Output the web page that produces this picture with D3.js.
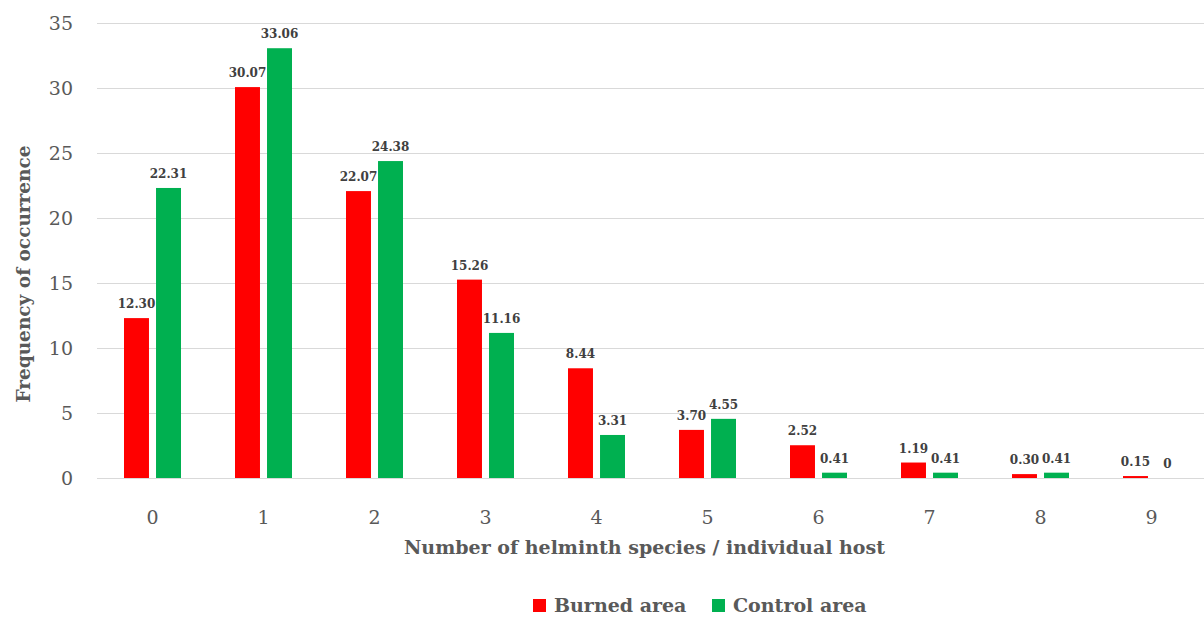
<!DOCTYPE html>
<html>
<head>
<meta charset="utf-8">
<script src="https://cdn.jsdelivr.net/npm/d3@7"></script>
<style>
  body { margin: 0; background: #fff; }
  svg { display: block; font-family: "DejaVu Serif", serif; }
</style>
</head>
<body>
<div class="chart"></div>
<script>
const categories = ["0", "1", "2", "3", "4", "5", "6", "7", "8", "9"];
const burned = [12.30, 30.07, 22.07, 15.26, 8.44, 3.70, 2.52, 1.19, 0.30, 0.15];
const control = [22.31, 33.06, 24.38, 11.16, 3.31, 4.55, 0.41, 0.41, 0.41, 0];
const burnedLabels = ["12.30", "30.07", "22.07", "15.26", "8.44", "3.70", "2.52", "1.19", "0.30", "0.15"];
const controlLabels = ["22.31", "33.06", "24.38", "11.16", "3.31", "4.55", "0.41", "0.41", "0.41", "0"];
const yTicks = [0, 5, 10, 15, 20, 25, 30, 35];
const seriesNames = ["Burned area", "Control area"];
const colors = ["#ff0000", "#00b050"];

const width = 1204, height = 617;
const margin = { top: 23, right: -3, bottom: 139, left: 97 };

const svg = d3.select(".chart").append("svg")
  .attr("width", width)
  .attr("height", height);

const x = d3.scaleBand()
  .domain(categories)
  .range([margin.left, width - margin.right]);

const inner = d3.scaleBand()
  .domain([0, 1])
  .range([x.bandwidth() / 2 - 28.5, x.bandwidth() / 2 + 28.5])
  .paddingInner(0.22);

const y = d3.scaleLinear()
  .domain([0, 35])
  .range([height - margin.bottom, margin.top]);

// gridlines + y labels
const yAxis = svg.append("g")
  .attr("transform", `translate(${margin.left},0)`)
  .call(d3.axisLeft(y).tickValues(yTicks).tickSize(0).tickPadding(24))
  .call(g => g.select(".domain").remove());
yAxis.selectAll(".tick text")
  .attr("fill", "#595959")
  .style("font-family", "DejaVu Serif")
  .style("font-size", "19px");
yAxis.selectAll(".tick line").clone()
  .attr("stroke", "#d9d9d9")
  .attr("stroke-width", 1)
  .attr("x2", width - margin.left);

// bars
const series = [burned, control];
const labels = [burnedLabels, controlLabels];
series.forEach((vals, si) => {
  const g = svg.append("g");
  g.selectAll("rect")
    .data(vals)
    .join("rect")
    .attr("x", (d, i) => x(categories[i]) + inner(si))
    .attr("width", inner.bandwidth())
    .attr("y", d => y(d))
    .attr("height", d => y(0) - y(d))
    .attr("fill", colors[si]);
  g.selectAll("text")
    .data(vals)
    .join("text")
    .attr("x", (d, i) => x(categories[i]) + inner(si) + inner.bandwidth() / 2)
    .attr("y", d => y(d) - 10)
    .attr("text-anchor", "middle")
    .attr("fill", "#404040")
    .style("font-size", "12px")
    .style("font-weight", "bold")
    .text((d, i) => labels[si][i]);
});

// x axis labels
const xAxis = svg.append("g")
  .attr("transform", `translate(0,${y(0)})`)
  .call(d3.axisBottom(x).tickSize(0).tickPadding(33))
  .call(g => g.select(".domain").remove());
xAxis.selectAll(".tick text")
  .attr("fill", "#595959")
  .style("font-family", "DejaVu Serif")
  .style("font-size", "19px");

// axis titles
svg.append("text")
  .attr("x", (margin.left + width) / 2 - 6)
  .attr("y", 554)
  .attr("text-anchor", "middle")
  .attr("fill", "#595959")
  .style("font-size", "19px")
  .style("font-weight", "bold")
  .text("Number of helminth species / individual host");

svg.append("text")
  .attr("transform", `translate(30,274) rotate(-90)`)
  .attr("text-anchor", "middle")
  .attr("fill", "#595959")
  .style("font-size", "18.5px")
  .style("font-weight", "bold")
  .text("Frequency of occurrence");

// legend
const legend = svg.append("g");
const legendX = [533, 712];
seriesNames.forEach((name, i) => {
  legend.append("rect")
    .attr("x", legendX[i])
    .attr("y", 599)
    .attr("width", 13)
    .attr("height", 13)
    .attr("fill", colors[i]);
  legend.append("text")
    .attr("x", legendX[i] + 21)
    .attr("y", 612)
    .attr("fill", "#595959")
    .style("font-size", "19px")
    .style("font-weight", "bold")
    .text(name);
});
</script>
</body>
</html>
